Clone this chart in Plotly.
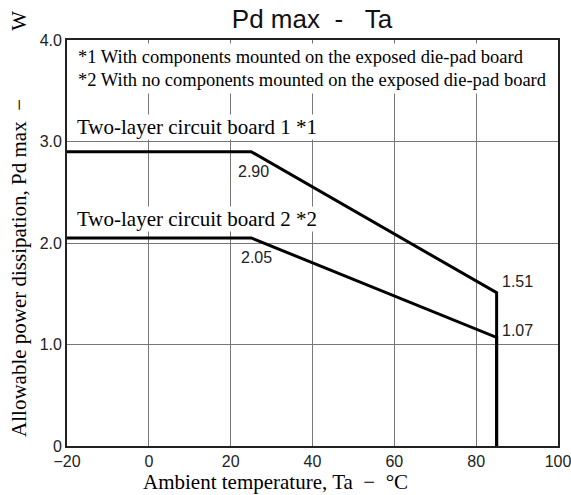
import plotly.graph_objects as go

# Data
board1_x = [-20, 25, 85, 85]
board1_y = [2.90, 2.90, 1.51, 0]
board2_x = [-20, 25, 85, 85]
board2_y = [2.05, 2.05, 1.07, 0]
x_ticks = [-20, 0, 20, 40, 60, 80, 100]
y_ticks = [0, 1, 2, 3, 4]
y_tick_text = ["0", "1.0", "2.0", "3.0", "4.0"]
value_labels = [(25.5, 2.70, "2.90"), (26.2, 1.86, "2.05"), (90.0, 1.62, "1.51"), (90.0, 1.14, "1.07")]
footnotes = ["*1 With components mounted on the exposed die-pad board",
             "*2 With no components mounted on the exposed die-pad board"]
board_labels = ["Two-layer circuit board 1 *1", "Two-layer circuit board 2 *2"]

SERIF = "Liberation Serif, Times New Roman, serif"
SANS = "Liberation Sans, Arial, sans-serif"
NB = "\u00a0"

fig = go.Figure()
for xs, ys in [(board1_x, board1_y), (board2_x, board2_y)]:
    fig.add_trace(go.Scatter(x=xs, y=ys, mode="lines",
                             line=dict(color="black", width=3),
                             showlegend=False, hoverinfo="skip"))

ann = []
for txt, yy in zip(footnotes, [3.83, 3.61]):
    ann.append(dict(x=-18.3, y=yy, xref="x", yref="y", xanchor="left", yanchor="middle",
                    text=txt, showarrow=False, bgcolor="white", borderpad=3,
                    font=dict(family=SERIF, size=18.5, color="black")))
for txt, yy in zip(board_labels, [3.14, 2.24]):
    ann.append(dict(x=-17.8, y=yy, xref="x", yref="y", xanchor="left", yanchor="middle",
                    text=txt, showarrow=False, bgcolor="white", borderpad=0,
                    font=dict(family=SERIF, size=21, color="black")))
for x, y, t in value_labels:
    ann.append(dict(x=x, y=y, xref="x", yref="y", xanchor="center", yanchor="middle",
                    text=t, showarrow=False,
                    font=dict(family=SANS, size=16, color="#222")))
# axis titles
ann.append(dict(x=0.424, y=0, xref="paper", yref="paper", xanchor="center", yanchor="middle",
                yshift=-36, text="Ambient temperature, Ta" + NB * 2 + "\u2212" + NB * 2 + "\u00b0C",
                showarrow=False, font=dict(family=SERIF, size=21, color="black")))
ann.append(dict(x=0, y=0.547, xref="paper", yref="paper", xanchor="center", yanchor="middle",
                xshift=-48, textangle=-90,
                text="Allowable power dissipation, Pd max" + NB * 2 + "\u2212" + NB * 13 + "W",
                showarrow=False, font=dict(family=SERIF, size=21, color="black")))

fig.update_layout(
    width=571, height=495,
    margin=dict(l=67, r=13, t=40, b=49),
    paper_bgcolor="white", plot_bgcolor="white",
    title=dict(text="Pd max" + NB * 2 + "-" + NB * 3 + "Ta", x=0.5464, xanchor="center",
               y=0.9616, yanchor="middle",
               font=dict(family=SANS, size=26, color="#111")),
    annotations=ann,
    xaxis=dict(range=[-20, 100], tickvals=x_ticks, showgrid=True, gridcolor="#777", gridwidth=1,
               showline=True, linecolor="#222", linewidth=1.8, mirror=True, ticks="",
               zeroline=False, automargin=False, ticklabeloverflow="allow",
               tickfont=dict(family=SANS, size=16, color="#222")),
    yaxis=dict(range=[0, 4], tickvals=y_ticks, ticktext=y_tick_text, showgrid=True,
               gridcolor="#777", gridwidth=1,
               showline=True, linecolor="#222", linewidth=1.8, mirror=True, ticks="",
               zeroline=False, automargin=False, ticklabeloverflow="allow",
               tickfont=dict(family=SANS, size=16, color="#222")),
)

fig.write_html("out.html", config={"displayModeBar": False},
               post_script="document.body.style.margin='0';document.body.style.overflow='hidden';")
